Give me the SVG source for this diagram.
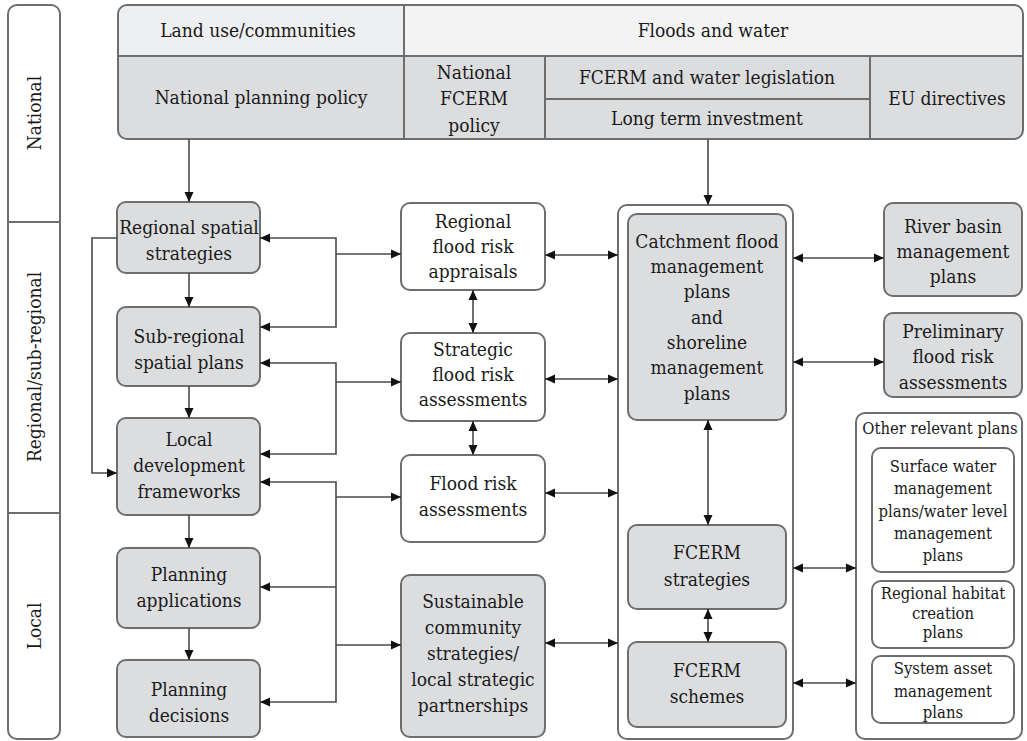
<svg xmlns="http://www.w3.org/2000/svg" width="1027" height="741" viewBox="0 0 1027 741" font-family="DejaVu Serif Condensed, DejaVu Serif, serif" font-size="19">
  <style>
    text { fill: #1a1a1a; text-anchor: middle; }
    .sm { font-size: 16.5px; }
    .box { stroke: #6e6e6e; stroke-width: 2; }
    .grey { fill: #dcdddf; }
    .white { fill: #ffffff; }
    .div { stroke: #6e6e6e; stroke-width: 2; fill: none; }
    .conn path { fill: none; stroke: #4a4a4a; stroke-width: 1.6; }
    .one { marker-end: url(#arr); }
    .two { marker-start: url(#arr); marker-end: url(#arr); }
  </style>
  <defs>
    <marker id="arr" viewBox="0 0 10 10" refX="10" refY="5" markerWidth="10" markerHeight="10" markerUnits="userSpaceOnUse" orient="auto-start-reverse">
      <path d="M0,0.5 L10,5 L0,9.5 z" fill="#111"/>
    </marker>
    <clipPath id="hdrClip">
      <rect x="118" y="5" width="905" height="134" rx="9"/>
    </clipPath>
  </defs>

  <!-- Level labels -->
  <g id="levels">
    <rect x="8" y="5" width="52" height="734" rx="9" class="box white"/>
    <line x1="8" y1="222" x2="60" y2="222" class="div"/>
    <line x1="8" y1="513" x2="60" y2="513" class="div"/>
    <text transform="translate(41,113) rotate(-90)">National</text>
    <text transform="translate(41,367) rotate(-90)">Regional/sub-regional</text>
    <text transform="translate(41,626) rotate(-90)">Local</text>
  </g>

  <!-- National header table -->
  <g id="national-header">
    <g clip-path="url(#hdrClip)">
      <rect x="118" y="5" width="286" height="51" fill="#eeeff0"/>
      <rect x="404" y="5" width="619" height="51" fill="#f2f3f2"/>
      <rect x="118" y="56" width="905" height="83" fill="#dcdddf"/>
    </g>
    <rect x="118" y="5" width="905" height="134" rx="9" fill="none" class="box"/>
    <path class="div" d="M118,56 H1023 M404,5 V139 M545,56 V139 M870,56 V139 M545,99 H870"/>
    <text x="258" y="37">Land use/communities</text>
    <text x="713" y="37">Floods and water</text>
    <text x="261" y="104">National planning policy</text>
    <text x="474" y="79">National</text>
    <text x="474" y="105">FCERM</text>
    <text x="474" y="132">policy</text>
    <text x="707" y="84">FCERM and water legislation</text>
    <text x="707" y="125">Long term investment</text>
    <text x="947" y="105">EU directives</text>
  </g>

  <!-- Spatial planning column -->
  <g id="regional-spatial-strategies">
    <rect x="117" y="202" width="143" height="71" rx="9" class="box grey"/>
    <text x="189" y="234">Regional spatial</text>
    <text x="189" y="260">strategies</text>
  </g>
  <g id="sub-regional-spatial-plans">
    <rect x="117" y="307" width="143" height="79" rx="9" class="box grey"/>
    <text x="189" y="343">Sub-regional</text>
    <text x="189" y="369">spatial plans</text>
  </g>
  <g id="local-development-frameworks">
    <rect x="117" y="418" width="143" height="97" rx="9" class="box grey"/>
    <text x="189" y="446">Local</text>
    <text x="189" y="472">development</text>
    <text x="189" y="498">frameworks</text>
  </g>
  <g id="planning-applications">
    <rect x="117" y="548" width="143" height="80" rx="9" class="box grey"/>
    <text x="189" y="581">Planning</text>
    <text x="189" y="607">applications</text>
  </g>
  <g id="planning-decisions">
    <rect x="117" y="660" width="143" height="77" rx="9" class="box grey"/>
    <text x="189" y="696">Planning</text>
    <text x="189" y="722">decisions</text>
  </g>

  <!-- Flood risk assessment column -->
  <g id="regional-flood-risk-appraisals">
    <rect x="401" y="203" width="144" height="87" rx="9" class="box white"/>
    <text x="473" y="228">Regional</text>
    <text x="473" y="253">flood risk</text>
    <text x="473" y="278">appraisals</text>
  </g>
  <g id="strategic-flood-risk-assessments">
    <rect x="401" y="333" width="144" height="88" rx="9" class="box white"/>
    <text x="473" y="356">Strategic</text>
    <text x="473" y="381">flood risk</text>
    <text x="473" y="406">assessments</text>
  </g>
  <g id="flood-risk-assessments">
    <rect x="401" y="455" width="144" height="87" rx="9" class="box white"/>
    <text x="473" y="490">Flood risk</text>
    <text x="473" y="516">assessments</text>
  </g>
  <g id="sustainable-community-strategies">
    <rect x="401" y="575" width="144" height="162" rx="9" class="box grey"/>
    <text x="473" y="608">Sustainable</text>
    <text x="473" y="634">community</text>
    <text x="473" y="660">strategies/</text>
    <text x="473" y="686">local strategic</text>
    <text x="473" y="712">partnerships</text>
  </g>

  <!-- Flood management plans container -->
  <g id="fcerm-plans">
    <rect x="618" y="205" width="175" height="534" rx="9" class="box white"/>
  </g>
  <g id="catchment-shoreline-plans">
    <rect x="628" y="214" width="158" height="206" rx="9" class="box grey"/>
    <text x="707" y="248">Catchment flood</text>
    <text x="707" y="273">management</text>
    <text x="707" y="298">plans</text>
    <text x="707" y="324">and</text>
    <text x="707" y="349">shoreline</text>
    <text x="707" y="374">management</text>
    <text x="707" y="400">plans</text>
  </g>
  <g id="fcerm-strategies">
    <rect x="628" y="525" width="158" height="84" rx="9" class="box grey"/>
    <text x="707" y="559">FCERM</text>
    <text x="707" y="586">strategies</text>
  </g>
  <g id="fcerm-schemes">
    <rect x="628" y="642" width="158" height="85" rx="9" class="box grey"/>
    <text x="707" y="677">FCERM</text>
    <text x="707" y="703">schemes</text>
  </g>

  <!-- Related plans -->
  <g id="river-basin-management-plans">
    <rect x="884" y="203" width="138" height="93" rx="9" class="box grey"/>
    <text x="953" y="233">River basin</text>
    <text x="953" y="258">management</text>
    <text x="953" y="283">plans</text>
  </g>
  <g id="preliminary-flood-risk-assessments">
    <rect x="884" y="313" width="138" height="84" rx="9" class="box grey"/>
    <text x="953" y="338">Preliminary</text>
    <text x="953" y="363">flood risk</text>
    <text x="953" y="389">assessments</text>
  </g>
  <g id="other-relevant-plans">
    <rect x="856" y="413" width="166" height="326" rx="9" class="box white"/>
    <text class="sm" x="940" y="434">Other relevant plans</text>
  </g>
  <g id="surface-water-plans">
    <rect x="872" y="448" width="142" height="124" rx="9" class="box white"/>
    <text class="sm" x="943" y="472">Surface water</text>
    <text class="sm" x="943" y="494">management</text>
    <text class="sm" x="943" y="517">plans/water level</text>
    <text class="sm" x="943" y="539">management</text>
    <text class="sm" x="943" y="561">plans</text>
  </g>
  <g id="regional-habitat-creation-plans">
    <rect x="872" y="581" width="142" height="67" rx="9" class="box white"/>
    <text class="sm" x="943" y="599">Regional habitat</text>
    <text class="sm" x="943" y="619">creation</text>
    <text class="sm" x="943" y="638">plans</text>
  </g>
  <g id="system-asset-management-plans">
    <rect x="872" y="656" width="142" height="67" rx="9" class="box white"/>
    <text class="sm" x="943" y="674">System asset</text>
    <text class="sm" x="943" y="697">management</text>
    <text class="sm" x="943" y="718">plans</text>
  </g>

  <!-- Connectors -->
  <g id="connectors" class="conn">
    <path class="one" d="M189,139 V202"/>
    <path class="one" d="M708,139 V205"/>
    <path class="one" d="M189,273 V307"/>
    <path class="one" d="M189,386 V418"/>
    <path class="one" d="M189,515 V548"/>
    <path class="one" d="M189,628 V660"/>
    <path class="one" d="M117,238 H92 V473 H117"/>
    <path class="one" d="M336,254 V238 H260"/>
    <path class="one" d="M336,254 V327 H260"/>
    <path class="one" d="M336,254 H401"/>
    <path class="one" d="M336,382 V363 H260"/>
    <path class="one" d="M336,382 V454 H260"/>
    <path class="one" d="M336,382 H401"/>
    <path class="one" d="M336,497 V482 H260"/>
    <path class="one" d="M336,497 V587 H260"/>
    <path class="one" d="M336,587 V702 H260"/>
    <path class="one" d="M336,497 H401"/>
    <path class="one" d="M336,645 H401"/>
    <path class="two" d="M473,290 V333"/>
    <path class="two" d="M473,421 V455"/>
    <path class="two" d="M545,255 H618"/>
    <path class="two" d="M545,379 H618"/>
    <path class="two" d="M545,493 H618"/>
    <path class="two" d="M545,643 H618"/>
    <path class="two" d="M708,420 V525"/>
    <path class="two" d="M708,609 V642"/>
    <path class="two" d="M793,258 H884"/>
    <path class="two" d="M793,362 H884"/>
    <path class="two" d="M793,568 H856"/>
    <path class="two" d="M793,683 H856"/>
  </g>
</svg>
